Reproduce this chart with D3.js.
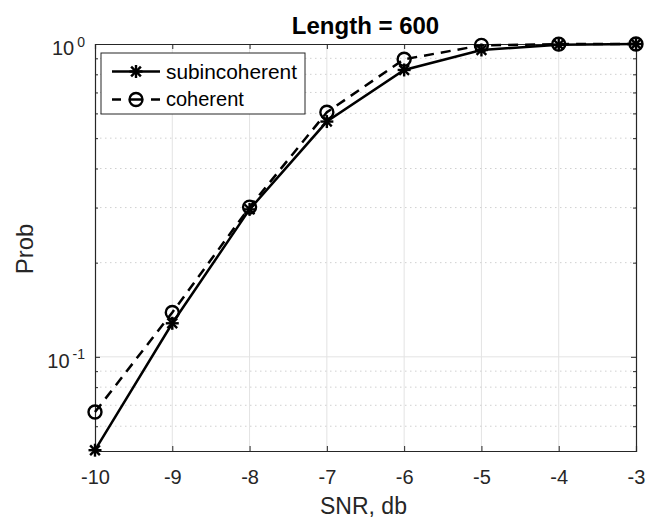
<!DOCTYPE html>
<html>
<head>
<meta charset="utf-8">
<script src="https://cdn.jsdelivr.net/npm/d3@7"></script>
<style>
  html, body { margin: 0; padding: 0; background: #fff; }
  svg { display: block; font-family: "Liberation Sans", Arial, sans-serif; }
</style>
</head>
<body>
<svg id="chart" width="646" height="521"></svg>
<script>
// ---- data ----
const snr = [-10, -9, -8, -7, -6, -5, -4, -3];
const subincoherent = [0.0503, 0.128, 0.296, 0.565, 0.826, 0.957, 0.995, 1.0];
const coherent = [0.0666, 0.1386, 0.301, 0.605, 0.894, 0.99, 0.999, 1.0];
const xTicks = [-10, -9, -8, -7, -6, -5, -4, -3];
const xTickLabels = ["-10", "-9", "-8", "-7", "-6", "-5", "-4", "-3"];
const yMajorTicks = [0.1, 1];
const yMinorTicks = [0.06, 0.07, 0.08, 0.09, 0.2, 0.3, 0.4, 0.5, 0.6, 0.7, 0.8, 0.9];
const yTickLabels = [{v: 0.1, base: "10", exp: "-1"}, {v: 1, base: "10", exp: "0"}];
const titleText = "Length = 600";
const xLabelText = "SNR, db";
const yLabelText = "Prob";
const seriesNames = ["subincoherent", "coherent"];

// ---- layout ----
const L = 95, R = 636, T = 44, B = 451;
const svg = d3.select("#chart");
const x = d3.scaleLinear().domain([-10, -3]).range([L, R]);
const y = d3.scaleLog().domain([0.05, 1]).range([B, T]);

const axisColor = "#262626";

// grid
const g = svg.append("g");
g.selectAll(".xg").data(xTicks.slice(1, -1)).enter().append("line")
  .attr("x1", d => x(d)).attr("x2", d => x(d)).attr("y1", T).attr("y2", B)
  .attr("stroke", "#e3e3e3").attr("stroke-width", 1);
g.selectAll(".ymg").data(yMinorTicks).enter().append("line")
  .attr("x1", L).attr("x2", R).attr("y1", d => y(d)).attr("y2", d => y(d))
  .attr("stroke", "#d0d0d0").attr("stroke-width", 1).attr("stroke-dasharray", "1.5,3.5");
g.selectAll(".yg").data(yMajorTicks.filter(d => d < 1)).enter().append("line")
  .attr("x1", L).attr("x2", R).attr("y1", d => y(d)).attr("y2", d => y(d))
  .attr("stroke", "#e3e3e3").attr("stroke-width", 1);

// axes via d3 axis with inward ticks
const xAxisB = d3.axisBottom(x).tickValues(xTicks).tickSize(-5)
  .tickFormat((d, i) => xTickLabels[i]).tickPadding(13);
const xAxisT = d3.axisTop(x).tickValues(xTicks).tickSize(-5).tickFormat("");
const yAxisL = d3.axisLeft(y).tickValues(yMajorTicks).tickSize(-5).tickFormat("");
const yAxisR = d3.axisRight(y).tickValues(yMajorTicks).tickSize(-5).tickFormat("");
const yAxisLm = d3.axisLeft(y).tickValues(yMinorTicks).tickSize(-3).tickFormat("");
const yAxisRm = d3.axisRight(y).tickValues(yMinorTicks).tickSize(-3).tickFormat("");

function styleAxis(sel) {
  sel.selectAll("path").attr("stroke", axisColor).attr("stroke-width", 1.2);
  sel.selectAll("line").attr("stroke", axisColor).attr("stroke-width", 1);
  sel.selectAll("text").attr("fill", axisColor).style("font-size", "20px")
     .style("font-family", "'Liberation Sans', Arial, sans-serif");
}
const gxb = svg.append("g").attr("transform", `translate(0,${B})`).call(xAxisB).call(styleAxis);
gxb.selectAll("text").attr("dy", null).attr("y", 33);
svg.append("g").attr("transform", `translate(0,${T})`).call(xAxisT).call(styleAxis);
svg.append("g").attr("transform", `translate(${L},0)`).call(yAxisL).call(styleAxis);
svg.append("g").attr("transform", `translate(${R},0)`).call(yAxisR).call(styleAxis);
svg.append("g").attr("transform", `translate(${L},0)`).call(yAxisLm).call(styleAxis).select("path").remove();
svg.append("g").attr("transform", `translate(${R},0)`).call(yAxisRm).call(styleAxis).select("path").remove();

// y tick labels 10^n
yTickLabels.forEach(t => {
  const txt = svg.append("text").attr("x", 85).attr("y", y(t.v) + 11)
    .attr("text-anchor", "end").attr("fill", axisColor).style("font-size", "20px");
  txt.append("tspan").text(t.base);
  txt.append("tspan").attr("dx", 3).attr("dy", -8.5).style("font-size", "14px").text(t.exp);
});

// series
const line = d3.line().x((d, i) => x(snr[i])).y(d => y(d));
svg.append("path").datum(subincoherent).attr("d", line)
  .attr("fill", "none").attr("stroke", "#000").attr("stroke-width", 2.5);
svg.append("path").datum(coherent).attr("d", line)
  .attr("fill", "none").attr("stroke", "#000").attr("stroke-width", 2.5)
  .attr("stroke-dasharray", "10,7");

function star(sel, cx, cy, s) {
  const gg = sel.append("g").attr("transform", `translate(${cx},${cy})`)
    .attr("stroke", "#000").attr("stroke-width", 2.4);
  gg.append("line").attr("x1", -s).attr("x2", s).attr("y1", 0).attr("y2", 0);
  gg.append("line").attr("x1", 0).attr("x2", 0).attr("y1", -s).attr("y2", s);
  const k = s * 0.75;
  gg.append("line").attr("x1", -k).attr("x2", k).attr("y1", -k).attr("y2", k);
  gg.append("line").attr("x1", -k).attr("x2", k).attr("y1", k).attr("y2", -k);
}
subincoherent.forEach((v, i) => star(svg, x(snr[i]), y(v), 6.5));
svg.selectAll(".coh").data(coherent).enter().append("circle")
  .attr("cx", (d, i) => x(snr[i])).attr("cy", d => y(d)).attr("r", 6.5)
  .attr("fill", "none").attr("stroke", "#000").attr("stroke-width", 2.4);

// legend
svg.append("rect").attr("x", 101).attr("y", 53).attr("width", 204).attr("height", 61)
  .attr("fill", "#fff").attr("stroke", axisColor).attr("stroke-width", 1);
svg.append("line").attr("x1", 112).attr("x2", 160).attr("y1", 71.5).attr("y2", 71.5)
  .attr("stroke", "#000").attr("stroke-width", 2.5);
star(svg, 136, 71.5, 6.5);
svg.append("line").attr("x1", 112).attr("x2", 160).attr("y1", 99.5).attr("y2", 99.5)
  .attr("stroke", "#000").attr("stroke-width", 2.5).attr("stroke-dasharray", "9,8,14,8,9");
svg.append("circle").attr("cx", 136).attr("cy", 99.5).attr("r", 6.5)
  .attr("fill", "none").attr("stroke", "#000").attr("stroke-width", 2.4);
svg.append("text").attr("x", 166).attr("y", 78.5).attr("fill", "#000")
  .style("font-size", "20px").attr("textLength", 131).attr("lengthAdjust", "spacingAndGlyphs").text(seriesNames[0]);
svg.append("text").attr("x", 166).attr("y", 105.5).attr("fill", "#000")
  .style("font-size", "20px").text(seriesNames[1]);

// title and labels
svg.append("text").attr("x", (L + R) / 2).attr("y", 34).attr("text-anchor", "middle")
  .attr("fill", "#000").style("font-size", "24px").style("font-weight", "bold").text(titleText);
svg.append("text").attr("x", (L + R) / 2 - 2).attr("y", 514).attr("text-anchor", "middle")
  .attr("fill", axisColor).style("font-size", "23px").text(xLabelText);
svg.append("text").attr("transform", `translate(33,249) rotate(-90)`).attr("text-anchor", "middle")
  .attr("fill", axisColor).style("font-size", "24px").text(yLabelText);
</script>
</body>
</html>
